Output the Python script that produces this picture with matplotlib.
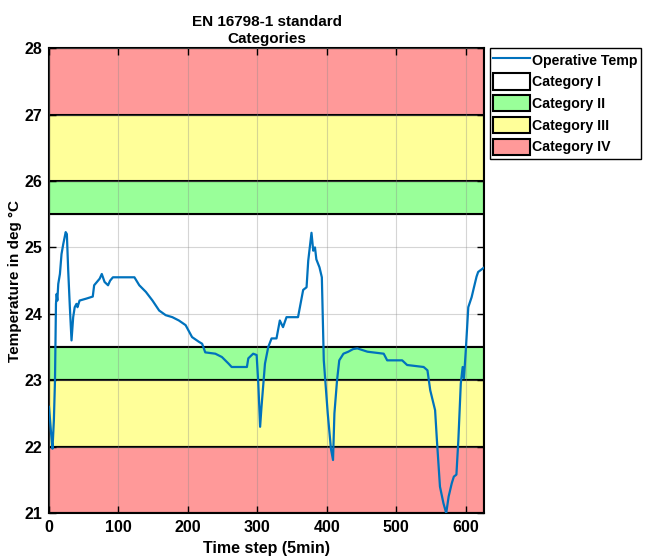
import numpy as np
import matplotlib
matplotlib.use("Agg")
import matplotlib.pyplot as plt
from matplotlib.patches import Patch
from matplotlib.lines import Line2D

plt.rcParams['font.family'] = ['Liberation Sans', 'DejaVu Sans']
plt.rcParams['font.weight'] = 'bold'

# time step (5 min) and operative temperature
t = [0, 3, 5, 7, 8.6, 10, 11, 12, 13.3, 15.7, 18, 20.5, 24, 25.7, 27.6, 30, 32.4,
     34.8, 37, 39.5, 41, 44, 54, 63, 65, 73, 76, 80, 85, 88, 92, 123, 130, 139.5,
     149, 158.6, 168, 177.6, 187, 196.7, 206, 215.7, 220.5, 225, 239.5, 249, 258.6,
     263, 285, 287, 294, 299, 301.4, 304, 306, 311, 315.7, 320.5, 327.6, 332.4, 337,
     342, 358.6, 366, 370.9, 373.3, 378, 380.5, 383, 385, 389.5, 392.9, 395.7, 401.4,
     406, 409, 411, 414.8, 418, 424, 431, 438, 444, 458.6, 482, 487, 508.6, 515.7,
     539.5, 545, 549, 556, 558.6, 563, 568, 572, 575.5, 580, 583, 586.7, 589.5, 593,
     595.7, 597.6, 600.5, 603.8, 608.6, 612, 615.7, 618, 627]
temp = [22.6, 22.2, 21.97, 22.4, 23.0, 24.15, 24.3, 24.2, 24.45, 24.6, 24.9, 25.05,
        25.23, 25.2, 24.66, 24.1, 23.6, 23.95, 24.1, 24.15, 24.1, 24.2, 24.23, 24.26,
        24.43, 24.53, 24.6, 24.48, 24.43, 24.5, 24.55, 24.55, 24.43, 24.33, 24.2,
        24.05, 23.98, 23.95, 23.9, 23.83, 23.65, 23.58, 23.55, 23.42, 23.4, 23.35,
        23.25, 23.2, 23.2, 23.33, 23.4, 23.38, 22.95, 22.3, 22.6, 23.25, 23.5, 23.63,
        23.63, 23.9, 23.8, 23.95, 23.95, 24.36, 24.4, 24.8, 25.22, 24.95, 25.0, 24.82,
        24.7, 24.55, 23.3, 22.5, 21.97, 21.8, 22.5, 23.0, 23.3, 23.4, 23.43, 23.47,
        23.48, 23.43, 23.4, 23.3, 23.3, 23.23, 23.2, 23.15, 22.85, 22.55, 22.1, 21.4,
        21.15, 21.0, 21.25, 21.45, 21.55, 21.58, 22.1, 22.95, 23.2, 23.03, 23.5, 24.1,
        24.25, 24.4, 24.56, 24.63, 24.7]

# category bands (lower, upper) per category
cat_names = ['Category I', 'Category II', 'Category III', 'Category IV']
cat_bands = [[(23.5, 25.5)],
             [(23.0, 23.5), (25.5, 26.0)],
             [(22.0, 23.0), (26.0, 27.0)],
             [(21.0, 22.0), (27.0, 28.0)]]
cat_colors = ['#ffffff', '#99ff99', '#ffff99', '#ff9999']

fig = plt.figure(figsize=(6.45, 5.59), dpi=100)
ax = fig.add_axes([0.076, 0.082, 0.675, 0.832])

for bands, col in zip(cat_bands, cat_colors):
    for lo, hi in bands:
        ax.axhspan(lo, hi, facecolor=col, edgecolor='black', linewidth=1.5, zorder=1)

ax.grid(True, color='#888888', alpha=0.35, linewidth=0.8, zorder=2)
ax.set_axisbelow(False)
ax.plot(t, temp, color='#0072BD', linewidth=1.6, zorder=3)

ax.set_xlim(0, 627)
ax.set_ylim(21, 28)
ax.set_xticks(range(0, 601, 100))
ax.set_yticks(range(21, 29))
ax.tick_params(direction='in', top=True, right=True, labelsize=11.5, length=5,
               width=1, pad=5)
for lab in ax.get_xticklabels() + ax.get_yticklabels():
    lab.set_fontweight('bold')
for s in ax.spines.values():
    s.set_linewidth(1.5)

ax.set_title('EN 16798-1 standard\nCategories', fontsize=11, fontweight='bold', pad=4)
ax.set_xlabel('Time step (5min)', fontsize=11.5, fontweight='bold', labelpad=4)
ax.set_ylabel('Temperature in deg °C', fontsize=11, fontweight='bold')
ax.yaxis.set_label_coords(-0.062, 0.5)

handles = [Line2D([], [], color='#0072BD', linewidth=1.5)]
handles += [Patch(facecolor=c, edgecolor='black', linewidth=1.5) for c in cat_colors]
leg = ax.legend(handles, ['Operative Temp'] + cat_names, loc='upper left',
                bbox_to_anchor=(1.012, 1.0), fontsize=10.2, fancybox=False,
                edgecolor='black', framealpha=1, borderpad=0.25, labelspacing=0.38,
                handlelength=2.6, handleheight=1.4, handletextpad=0.15,
                borderaxespad=0)
leg.get_frame().set_linewidth(1.0)
for txt in leg.get_texts():
    txt.set_fontweight('bold')

fig.savefig('out.png', dpi=100)
